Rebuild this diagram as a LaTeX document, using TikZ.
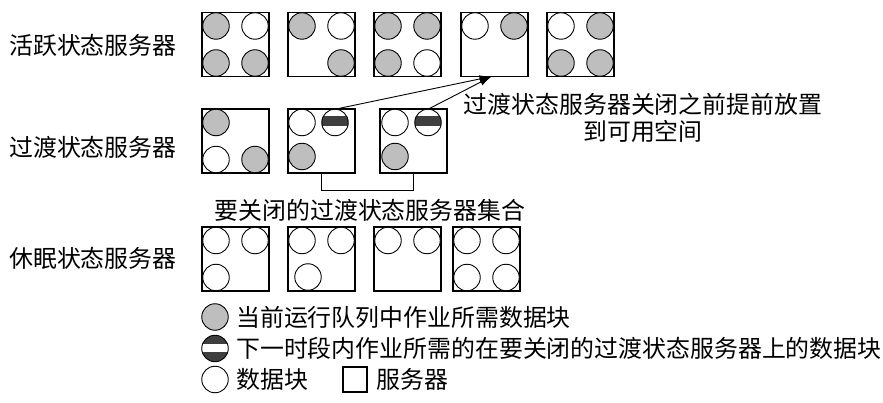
\documentclass[tikz,border=0pt]{standalone}
\usepackage{fontspec}
\newfontfamily\cjk{Noto Sans CJK SC}
\usetikzlibrary{calc,arrows.meta}
\definecolor{cgray}{RGB}{190,190,190}
\definecolor{cdark}{RGB}{62,62,62}
\newcommand\dblk[4]{\node[#1] (#2) at ($(#3.north west)+(#4)$) {};}
\begin{document}
\begin{tikzpicture}[x=1pt,y=-1pt,
 srv/.style={draw, line width=1.1pt, minimum width=67pt, minimum height=64pt, inner sep=0pt, outer sep=0pt, anchor=north west},
 blk/.style={circle, draw, line width=0.9pt, minimum size=26.5pt, inner sep=0pt, outer sep=0pt, fill=white},
 act/.style={blk, fill=cgray},
 nxt/.style={blk, path picture={\fill[cdark] ($(path picture bounding box.center)+(-15,-6)$) rectangle ($(path picture bounding box.center)+(15,4)$);}},
 lgnxt/.style={blk, fill=cdark, path picture={\fill[white] ($(path picture bounding box.center)+(-15,-5)$) rectangle ($(path picture bounding box.center)+(15,3)$);}},
 lbl/.style={font=\cjk\fontsize{23.9}{27}\selectfont, inner sep=0pt},
 arr/.style={line width=0.9pt, -{Latex[length=12pt,width=7.5pt]}},
 ln/.style={line width=0.9pt}]
\useasboundingbox (0,0) rectangle (883,403);
\fill[white] (0,0) rectangle (883,403);
% ---- row labels
\node[lbl, anchor=west] (L1) at (9,45) {活跃状态服务器};
\node[lbl, anchor=west] (L2) at (9,147) {过渡状态服务器};
\node[lbl, anchor=west] (L3) at (9,258) {休眠状态服务器};
% ---- active row
\node[srv] (a1) at (202,12.5) {};
\node[srv] (a2) at (288,12.5) {};
\node[srv] (a3) at (374,12.5) {};
\node[srv] (a4) at (461,12.5) {};
\node[srv] (a5) at (547,12.5) {};
\dblk{act}{a1tl}{a1}{14,13.5}\dblk{blk}{a1tr}{a1}{53,13.5}\dblk{act}{a1bl}{a1}{14,50.5}\dblk{act}{a1br}{a1}{53,50.5}
\dblk{act}{a2tl}{a2}{14,13.5}\dblk{blk}{a2tr}{a2}{53,13.5}\dblk{act}{a2br}{a2}{53,50.5}
\dblk{act}{a3tl}{a3}{14,13.5}\dblk{act}{a3tr}{a3}{53,13.5}\dblk{act}{a3bl}{a3}{14,50.5}\dblk{blk}{a3br}{a3}{53,50.5}
\dblk{blk}{a4tl}{a4}{14,13.5}\dblk{act}{a4tr}{a4}{53,13.5}
\dblk{blk}{a5tl}{a5}{14,13.5}\dblk{act}{a5tr}{a5}{53,13.5}\dblk{act}{a5bl}{a5}{14,50.5}\dblk{act}{a5br}{a5}{53,50.5}
% ---- transitional row
\node[srv] (t1) at (202,109) {};
\node[srv] (t2) at (288,109) {};
\node[srv] (t3) at (380,109) {};
\dblk{act}{t1tl}{t1}{14,13.5}\dblk{blk}{t1bl}{t1}{14,50.5}\dblk{act}{t1br}{t1}{53,50.5}
\dblk{blk}{t2tl}{t2}{14,13.5}\dblk{nxt}{t2tr}{t2}{47,13.5}\dblk{act}{t2bl}{t2}{14,47.5}
\dblk{blk}{t3tl}{t3}{15,13.5}\dblk{nxt}{t3tr}{t3}{48,13.5}\dblk{act}{t3bl}{t3}{15,47.5}
% arrows to free space
\coordinate (tgt) at ($(a4.south)+(-3,0)$);
\draw[arr] (t2tr.north) -- (tgt);
\draw[arr] (t3tr.north) -- (tgt);
\node[lbl, align=center] (note) at (643,117.5) {过渡状态服务器关闭之前提前放置\\到可用空间};
% bracket
\draw[ln] (t2.south) -- ++(0,17.5) -| (t3.south);
\node[lbl] (setlbl) at (370,210) {要关闭的过渡状态服务器集合};
% ---- sleeping row
\node[srv] (s1) at (202,227) {};
\node[srv] (s2) at (288,227) {};
\node[srv] (s3) at (374,227) {};
\node[srv] (s4) at (453,227) {};
\dblk{blk}{s1tl}{s1}{14,13.5}\dblk{blk}{s1tr}{s1}{53,13.5}\dblk{blk}{s1bl}{s1}{14,50.5}
\dblk{blk}{s2tl}{s2}{14,13.5}\dblk{blk}{s2tr}{s2}{53,13.5}\dblk{blk}{s2bm}{s2}{20,50}
\dblk{blk}{s3tl}{s3}{14,13.5}\dblk{blk}{s3tr}{s3}{53,13.5}
\dblk{blk}{s4tl}{s4}{14,13.5}\dblk{blk}{s4tr}{s4}{53,13.5}\dblk{blk}{s4bl}{s4}{14,50.5}\dblk{blk}{s4br}{s4}{53,50.5}
% ---- legend
\node[act] (k1) at (215,317) {};
\node[lbl, anchor=west] (k1t) at (236,317) {当前运行队列中作业所需数据块};
\node[lgnxt] (k2) at (215,348.5) {};
\node[lbl, anchor=west] (k2t) at (236,348.5) {下一时段内作业所需的在要关闭的过渡状态服务器上的数据块};
\node[blk] (k3) at (215,379.5) {};
\node[lbl, anchor=west] (k3t) at (236,379.5) {数据块};
\node[draw, line width=1.1pt, minimum width=24pt, minimum height=25pt, inner sep=0pt] (k4) at (355,379.5) {};
\node[lbl, anchor=west] (k4t) at (376,379.5) {服务器};
\end{tikzpicture}
\end{document}
